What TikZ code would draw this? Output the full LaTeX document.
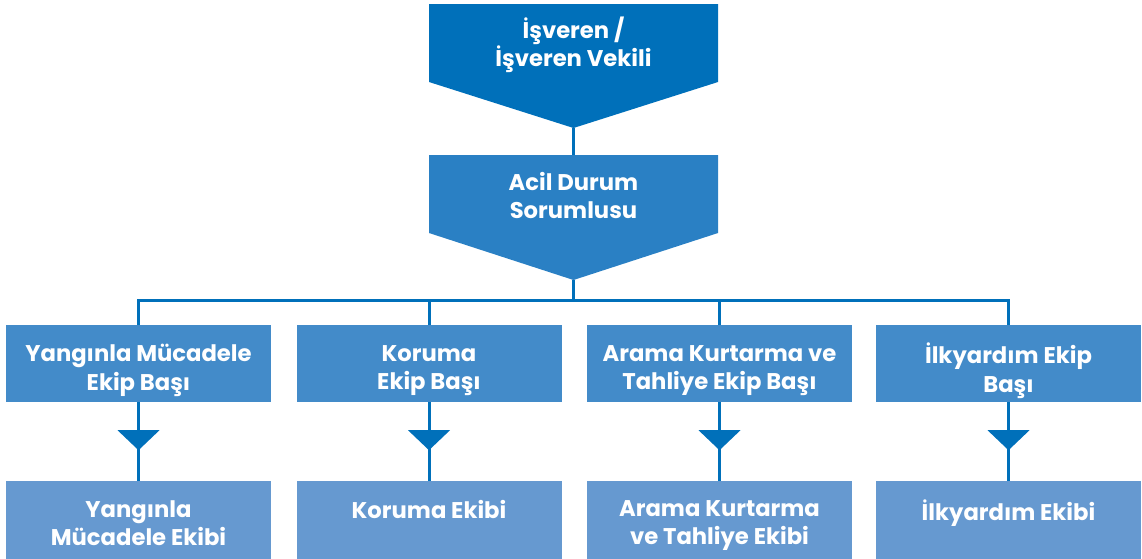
\documentclass[tikz,border=0pt]{standalone}
\usepackage{fontspec}
\setmainfont{Poppins}
\definecolor{cA}{HTML}{0070BA}
\definecolor{cB}{HTML}{2A80C4}
\definecolor{cC}{HTML}{438BC9}
\definecolor{cD}{HTML}{6699D0}
\tikzset{
  lbl/.style={text=white,font=\bfseries\fontsize{22.7}{28.5}\selectfont,align=center,inner sep=0pt},
  headbox/.style={fill=cC,minimum width=265pt,minimum height=77pt,inner sep=0pt},
  teambox/.style={fill=cD,minimum width=265pt,minimum height=80pt,inner sep=0pt},
  conn/.style={draw=cA,line width=3pt},
  tip/.style={fill=cA},
}
\begin{document}
\begin{tikzpicture}[x=1pt,y=-1pt]
\path[use as bounding box] (0,0) rectangle (1142,558);
% top pentagon
\fill[cA] (429,4) -- (718,4) -- (718,82) -- (573.5,128) -- (429,82) -- cycle;
\coordinate (topTip) at (573.5,128);
\node[lbl] (top) at (573.5,45) {İşveren /\\İşveren Vekili};
% second pentagon
\fill[cB] (429,155) -- (718,155) -- (718,233) -- (573.5,280) -- (429,233) -- cycle;
\coordinate (secTop) at (573.5,155);
\coordinate (secTip) at (573.5,280);
\node[lbl] (sec) at (573.5,195.5) {Acil Durum\\Sorumlusu};
\draw[conn] (topTip) -- (secTop);
% head boxes
\node[headbox] (h1) at (138.5,363.5) {};
\node[headbox] (h2) at (429,363.5) {};
\node[headbox] (h3) at (719.5,363.5) {};
\node[headbox] (h4) at (1008.5,363.5) {};
\node[lbl] at ([yshift=-7pt]h1.center) {Yangınla Mücadele\\Ekip Başı};
\node[lbl] at ([yshift=-7pt]h2.center) {Koruma\\Ekip Başı};
\node[lbl] at ([yshift=-7pt]h3.center) {Arama Kurtarma ve\\Tahliye Ekip Başı};
\node[lbl] at ([yshift=-7pt]h4.center) {İlkyardım Ekip\\Başı};
% team boxes
\node[teambox,anchor=north] (t1) at (138.5,481) {};
\node[teambox,anchor=north] (t2) at (429,481) {};
\node[teambox,anchor=north] (t3) at (719.5,481) {};
\node[teambox,anchor=north] (t4) at (1008.5,481) {};
\node[lbl,anchor=north] at ([yshift=-19pt]t1.north) {Yangınla\\Mücadele Ekibi};
\node[lbl,anchor=north] at ([yshift=-19pt]t2.north) {Koruma Ekibi};
\node[lbl,anchor=north] at ([yshift=-19pt]t3.north) {Arama Kurtarma\\ve Tahliye Ekibi};
\node[lbl,anchor=north] at ([yshift=-19pt]t4.north) {İlkyardım Ekibi};
% bus
\coordinate (bus) at (573.5,300);
\draw[conn] (secTip) -- (bus);
\draw[conn] (h1.north) -- (h1.north |- bus) -- (h4.north |- bus) -- (h4.north);
\draw[conn] (h2.north |- bus) -- (h2.north);
\draw[conn] (h3.north |- bus) -- (h3.north);
% down connectors with triangles
\foreach \i in {1,2,3,4}{
  \draw[conn] (h\i.south) -- (t\i.north);
  \fill[cA] ([xshift=-21pt,yshift=-28pt]h\i.south) -- ([xshift=21pt,yshift=-28pt]h\i.south) -- ([yshift=-48pt]h\i.south) -- cycle;
}
\end{tikzpicture}
\end{document}
